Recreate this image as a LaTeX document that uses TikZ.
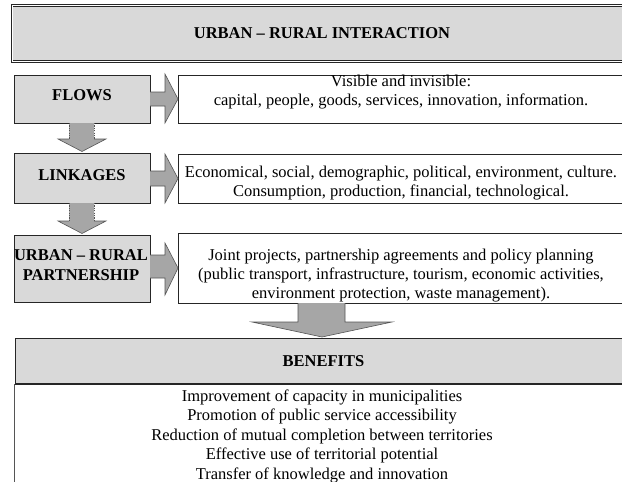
\documentclass[tikz,border=0pt]{standalone}
\usepackage{fontspec}
\setmainfont{Liberation Serif}
\usetikzlibrary{calc}
\definecolor{boxgray}{HTML}{D9D9D9}
\definecolor{arrgray}{HTML}{A6A6A6}
\definecolor{edgec}{HTML}{262626}
\definecolor{arredge}{HTML}{555555}
\tikzset{
  graybox/.style={rectangle, draw=edgec, fill=boxgray, line width=0.8pt, inner sep=0pt, outer sep=0pt},
  whitebox/.style={rectangle, draw=edgec, fill=white, line width=0.6pt, inner sep=0pt, outer sep=0pt},
  txt/.style={font=\fontsize{16.5}{19}\selectfont, align=center, inner sep=0pt},
  bentxt/.style={font=\fontsize{16.5}{19.5}\selectfont, align=center, inner sep=0pt},
  btxt/.style={font=\bfseries\fontsize{16.5}{19.5}\selectfont, align=center, inner sep=0pt},
  arrfill/.style={fill=arrgray, draw=none},
  arrline/.style={draw=arredge, line width=0.6pt},
  arrdots/.style={draw=arredge, line width=0.6pt, dash pattern=on 1.2pt off 1.2pt},
}
\begin{document}
\begin{tikzpicture}[x=1pt,y=-1pt]
\useasboundingbox (0,0) rectangle (622,482);
\clip (0,0) rectangle (622,482);

% title
\node[graybox, draw=edgec, double=white, double distance=1pt, line width=0.6pt,
      minimum width=620pt, minimum height=56pt, btxt] (title) at (322,33.5) {URBAN -- RURAL INTERACTION};

% left boxes
\node[graybox, minimum width=136pt, minimum height=48pt] (flows) at (82,99) {};
\node[btxt] (flowsT) at (82,95) {FLOWS};
\node[graybox, minimum width=136pt, minimum height=50pt] (links) at (82,178) {};
\node[btxt] (linksT) at (82,175) {LINKAGES};
\node[graybox, minimum width=136pt, minimum height=67pt] (part) at (82,268.5) {};
\node[btxt] (partT) at (81,265) {URBAN -- RURAL\\PARTNERSHIP};

% right boxes
\node[whitebox, minimum width=446pt, minimum height=48pt] (flowsR) at (401,99) {};
\node[txt] (flowsRT) at (401,92.5) {Visible and invisible:\\capital, people, goods, services, innovation, information.};
\node[whitebox, minimum width=446pt, minimum height=49pt] (linksR) at (401,178.5) {};
\node[txt] (linksRT) at (401,183) {Economical, social, demographic, political, environment, culture.\\Consumption, production, financial, technological.};
\node[whitebox, minimum width=446pt, minimum height=70pt] (partR) at (401,268) {};
\node[txt] (partRT) at (401,276) {Joint projects, partnership agreements and policy planning\\(public transport, infrastructure, tourism, economic activities,\\environment protection, waste management).};

% right arrows
\foreach \a/\b/\st/\sb/\ht/\hb in {flows/flowsR/-7/7/-25/24, links/linksR/-7/8/-24/25, part/partR/-13.5/9.5/-25.5/26.5}{
  \filldraw[arrfill] ($(\a.east)+(0,\st)$) -- ($(\a.east)+(15,\st)$) -- ($(\a.east)+(15,\ht)$)
     -- (\b.west) -- ($(\a.east)+(15,\hb)$) -- ($(\a.east)+(15,\sb)$) -- ($(\a.east)+(0,\sb)$) -- cycle;
  \draw[arrline] ($(\a.east)+(0,\st)$) -- ($(\a.east)+(15,\st)$) -- ($(\a.east)+(15,\ht)$)
     -- (\b.west) -- ($(\a.east)+(15,\hb)$) -- ($(\a.east)+(15,\sb)$) -- ($(\a.east)+(0,\sb)$);
}

% down arrows between left boxes
\foreach \a/\b in {flows/links, links/part}{
  \fill[arrfill] ($(\a.south)+(-13,0)$) -- ($(\a.south)+(12,0)$)
     -- ($(\b.north)+(12,-14)$) -- ($(\b.north)+(24,-14)$) -- ($(\b.north)+(0,-1.5)$)
     -- ($(\b.north)+(-24,-14)$) -- ($(\b.north)+(-13,-14)$) -- cycle;
  \draw[arrdots] ($(\a.south)+(-13,0)$) -- ($(\b.north)+(-13,-14)$);
  \draw[arrdots] ($(\a.south)+(12,0)$) -- ($(\b.north)+(12,-14)$);
  \draw[arrline] ($(\b.north)+(-13,-14)$) -- ($(\b.north)+(-24,-14)$) -- ($(\b.north)+(0,-1.5)$)
     -- ($(\b.north)+(24,-14)$) -- ($(\b.north)+(12,-14)$);
}

% benefits
\node[rectangle, draw=arredge, fill=white, line width=0.8pt, minimum width=640pt, minimum height=120pt, inner sep=0pt, outer sep=0pt] (benL) at (334,444) {};
\node[graybox, minimum width=617pt, minimum height=46pt, btxt] (benH) at (323.5,361) {BENEFITS};
\draw[edgec, line width=1.4pt] (benH.south west) -- (benH.south east);
\node[bentxt] (benT) at (322,436) {Improvement of capacity in municipalities\\Promotion of public service accessibility\\Reduction of mutual completion between territories\\Effective use of territorial potential\\Transfer of knowledge and innovation};

% big arrow
\coordinate (bigtop) at (partR.south -| 321.5,0);
\filldraw[arrfill] ($(bigtop)+(-23.5,0)$) -- ($(bigtop)+(23.5,0)$) -- ($(bigtop)+(23.5,19)$) -- ($(bigtop)+(70.5,19)$)
   -- ($(benH.north -| 322,0)+(0,-1)$) -- ($(bigtop)+(-69.5,19)$) -- ($(bigtop)+(-23.5,19)$) -- cycle;
\draw[arrline] ($(bigtop)+(-23.5,0)$) -- ($(bigtop)+(-23.5,19)$) -- ($(bigtop)+(-69.5,19)$)
   -- ($(benH.north -| 322,0)+(0,-1)$) -- ($(bigtop)+(70.5,19)$) -- ($(bigtop)+(23.5,19)$) -- ($(bigtop)+(23.5,0)$);
\end{tikzpicture}
\end{document}
